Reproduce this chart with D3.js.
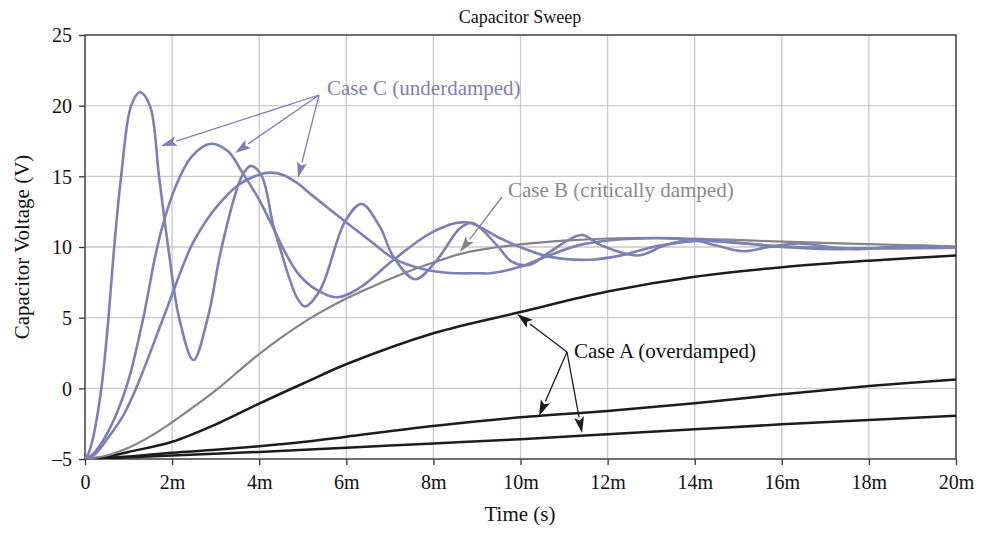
<!DOCTYPE html>
<html>
<head>
<meta charset="utf-8">
<script src="https://cdn.jsdelivr.net/npm/d3@7"></script>
<style>
  html, body { margin: 0; padding: 0; background: #fff; }
  svg { display: block; }
  text { font-family: "Liberation Serif", "DejaVu Serif", serif; }
</style>
</head>
<body>
<svg id="chart" width="988" height="541"></svg>
<script>
// ---------- data (time in ms, voltage in V) ----------
const xTicks = [0, 2, 4, 6, 8, 10, 12, 14, 16, 18, 20];
const xTickLabels = ["0", "2m", "4m", "6m", "8m", "10m", "12m", "14m", "16m", "18m", "20m"];
const yTicks = [-5, 0, 5, 10, 15, 20, 25];
const yTickLabels = ["–5", "0", "5", "10", "15", "20", "25"];

// Case C (underdamped) — three curves
const c1T = [0, 0.08, 0.17, 0.30, 0.40, 0.54, 0.67, 0.83, 1.06, 1.26, 1.49, 1.70, 1.91, 2.16, 2.49, 2.82, 3.14, 3.60, 3.81, 4.06, 4.32, 4.50, 4.68, 4.87, 5.05, 5.40, 5.97, 6.35, 6.77, 7.08, 7.58, 8.08, 8.61, 8.90, 9.45, 9.80, 10.20, 10.68, 11.40, 11.83, 12.70, 13.30, 13.90, 14.50, 15.10, 15.70, 16.40, 17.10, 17.70, 18.50, 19.20, 20];
const c1V = [-5, -4.6, -3.7, -1.6, 0.6, 5, 10, 15, 20, 20.95, 20, 15, 10, 5, 2.0, 5, 10, 15, 15.74, 15, 11.56, 9.7, 7.9, 6.4, 5.8, 6.96, 11.8, 13.05, 11.44, 9.32, 7.72, 9.08, 11.33, 11.7, 10.15, 8.96, 8.73, 9.67, 10.85, 10.15, 9.4, 10.1, 10.5, 10.1, 9.7, 10.0, 10.25, 10.0, 9.85, 10.0, 10.08, 9.98];

const c2T = [0, 0.2, 0.46, 0.75, 1.0, 1.34, 1.61, 1.80, 2.07, 2.45, 2.89, 3.29, 3.60, 3.98, 4.29, 4.60, 4.90, 5.30, 5.78, 6.30, 7.08, 8.00, 8.76, 9.53, 10.06, 10.68, 11.60, 12.30, 13.20, 14.20, 15.00, 16.00, 17.20, 18.50, 20];
const c2V = [-5, -4.6, -3.46, -1.6, 0.6, 5, 9.3, 11.7, 14.2, 16.4, 17.3, 16.75, 15.33, 13.45, 11.56, 9.6, 8.1, 7.0, 6.44, 7.1, 9.08, 11.09, 11.75, 10.62, 9.91, 9.3, 9.1, 9.4, 10.1, 10.45, 10.3, 10.0, 9.85, 9.95, 10.0];

const c3T = [0, 0.2, 0.54, 0.90, 1.20, 1.80, 2.43, 2.72, 3.06, 3.52, 3.98, 4.25, 4.55, 4.86, 5.24, 5.93, 6.62, 7.08, 7.69, 8.31, 9.07, 9.30, 9.99, 10.68, 11.37, 12.12, 13.20, 14.50, 16.00, 17.50, 20];
const c3V = [-5, -4.75, -3.46, -1.8, 0.2, 5, 10, 11.56, 12.98, 14.39, 15.1, 15.26, 15.1, 14.55, 13.6, 11.91, 10.27, 9.2, 8.5, 8.18, 8.14, 8.14, 8.6, 9.44, 10.15, 10.5, 10.62, 10.4, 10.05, 9.9, 9.95];

// Case B (critically damped)
const bT = [0, 0.5, 1.0, 1.5, 2.0, 2.5, 3.06, 4.02, 5.05, 6.01, 6.77, 7.50, 8.00, 8.60, 9.07, 10.06, 11.00, 12.00, 13.20, 16.03, 18.00, 20];
const bV = [-5, -4.75, -4.2, -3.4, -2.4, -1.3, 0, 2.48, 4.72, 6.37, 7.43, 8.35, 8.9, 9.5, 9.8, 10.2, 10.45, 10.6, 10.65, 10.38, 10.2, 10.02];

// Case A (overdamped) — three curves
const a1T = [0, 0.5, 1.0, 2.0, 3.06, 4.02, 5.05, 6.01, 8.0, 10.0, 12.0, 14.0, 16.0, 18.0, 20];
const a1V = [-5, -4.85, -4.5, -3.78, -2.47, -1.05, 0.4, 1.72, 3.9, 5.4, 6.85, 7.9, 8.57, 9.03, 9.39];

const a2T = [0, 1.0, 2.0, 3.0, 4.0, 5.0, 6.0, 8.0, 10.0, 12.0, 14.0, 16.0, 18.0, 20];
const a2V = [-5, -4.82, -4.55, -4.35, -4.1, -3.8, -3.42, -2.66, -2.05, -1.6, -1.06, -0.42, 0.16, 0.63];

const a3T = [0, 2.0, 4.0, 6.0, 8.0, 10.0, 12.0, 14.0, 16.0, 18.0, 20];
const a3V = [-5, -4.75, -4.5, -4.2, -3.9, -3.6, -3.25, -2.9, -2.55, -2.24, -1.94];

// ---------- layout ----------
const plot = { left: 85, right: 956, top: 35, bottom: 459 };
const COL_C = "#7d80b4", COL_B = "#848484", COL_A = "#1c1c1c";
const GRID = "#c9c9c9";

const svg = d3.select("#chart");
const x = d3.scaleLinear().domain([0, 20]).range([plot.left, plot.right]);
const y = d3.scaleLinear().domain([-5, 25]).range([plot.bottom, plot.top]);

// grid
const g = svg.append("g");
g.selectAll("line.vg").data(xTicks.slice(1, -1)).join("line")
  .attr("x1", d => x(d)).attr("x2", d => x(d))
  .attr("y1", plot.top).attr("y2", plot.bottom)
  .attr("stroke", GRID).attr("stroke-width", 1.3);
g.selectAll("line.hg").data(yTicks.slice(1, -1)).join("line")
  .attr("y1", d => y(d)).attr("y2", d => y(d))
  .attr("x1", plot.left).attr("x2", plot.right)
  .attr("stroke", GRID).attr("stroke-width", 1.3);

// axes
const xAxis = d3.axisBottom(x).tickValues(xTicks)
  .tickFormat((d, i) => xTickLabels[i]).tickSizeInner(6).tickSizeOuter(0).tickPadding(10);
const yAxis = d3.axisLeft(y).tickValues(yTicks)
  .tickFormat((d, i) => yTickLabels[i]).tickSizeInner(6).tickSizeOuter(0).tickPadding(7);

const gx = svg.append("g").attr("transform", `translate(0,${plot.bottom})`).call(xAxis);
const gy = svg.append("g").attr("transform", `translate(${plot.left},0)`).call(yAxis);
[gx, gy].forEach(ax => {
  ax.select(".domain").remove();
  ax.selectAll(".tick line").attr("stroke", "#333").attr("stroke-width", 1.3);
  ax.selectAll(".tick text").attr("fill", "#111").style("font-size", "20px")
    .style("font-family", "'Liberation Serif', serif");
});
gy.selectAll(".tick text").attr("dy", "0.34em");

// frame
svg.append("rect")
  .attr("x", plot.left).attr("y", plot.top)
  .attr("width", plot.right - plot.left).attr("height", plot.bottom - plot.top)
  .attr("fill", "none").attr("stroke", "#4a4a4a").attr("stroke-width", 1.6);

// curves
const line = d3.line().x(d => x(d[0])).y(d => y(d[1])).curve(d3.curveCatmullRom.alpha(0.5));
const zip = (T, V) => T.map((t, i) => [t, V[i]]);
const series = [
  { T: a3T, V: a3V, c: COL_A, w: 2.5 },
  { T: a2T, V: a2V, c: COL_A, w: 2.5 },
  { T: a1T, V: a1V, c: COL_A, w: 2.5 },
  { T: bT, V: bV, c: COL_B, w: 2.2 },
  { T: c3T, V: c3V, c: COL_C, w: 2.6 },
  { T: c2T, V: c2V, c: COL_C, w: 2.6 },
  { T: c1T, V: c1V, c: COL_C, w: 2.6 },
];
svg.append("clipPath").attr("id", "clip").append("rect")
  .attr("x", plot.left).attr("y", plot.top - 2)
  .attr("width", plot.right - plot.left).attr("height", plot.bottom - plot.top + 2);
svg.append("g").attr("clip-path", "url(#clip)")
  .selectAll("path").data(series).join("path")
  .attr("d", s => line(zip(s.T, s.V)))
  .attr("fill", "none").attr("stroke", s => s.c).attr("stroke-width", s => s.w)
  .attr("stroke-linejoin", "round").attr("stroke-linecap", "round");

// annotations (arrows)
function arrow(x0, y0, x1, y1, color) {
  const ang = Math.atan2(y1 - y0, x1 - x0);
  const L = 16, Wd = 5;
  const bx = x1 - L * Math.cos(ang), by = y1 - L * Math.sin(ang);
  svg.append("line").attr("x1", x0).attr("y1", y0).attr("x2", bx).attr("y2", by)
    .attr("stroke", color).attr("stroke-width", 1.3);
  const px = -Math.sin(ang), py = Math.cos(ang);
  svg.append("path")
    .attr("d", `M${x1},${y1}L${bx + px * Wd},${by + py * Wd}L${bx + (x1 - bx) * 0.2},${by + (y1 - by) * 0.2}L${bx - px * Wd},${by - py * Wd}Z`)
    .attr("fill", color);
}
const annFont = "21px";
// Case C
arrow(319, 95, 161, 146, COL_C);
arrow(319, 95, 235, 153, COL_C);
arrow(319, 95, 298, 178, COL_C);
svg.append("text").attr("x", 327).attr("y", 95).attr("fill", COL_C)
  .style("font-size", annFont).text("Case C (underdamped)");
// Case B
arrow(502, 197, 460, 252, COL_B);
svg.append("text").attr("x", 508).attr("y", 197).attr("fill", "#8a8a8a")
  .style("font-size", annFont).text("Case B (critically damped)");
// Case A
arrow(567, 352, 517, 314, COL_A);
arrow(567, 352, 539, 416, COL_A);
arrow(567, 352, 582, 433, COL_A);
svg.append("text").attr("x", 574).attr("y", 358).attr("fill", "#111")
  .style("font-size", annFont).text("Case A (overdamped)");

// titles
svg.append("text").attr("x", 520).attr("y", 23).attr("text-anchor", "middle")
  .attr("fill", "#111").style("font-size", "18px").text("Capacitor Sweep");
svg.append("text").attr("x", 520).attr("y", 521).attr("text-anchor", "middle")
  .attr("fill", "#111").style("font-size", "21px").text("Time (s)");
svg.append("text").attr("transform", `translate(29,${(plot.top + plot.bottom) / 2}) rotate(-90)`)
  .attr("text-anchor", "middle").attr("fill", "#111").style("font-size", "21px")
  .text("Capacitor Voltage (V)");
</script>
</body>
</html>
